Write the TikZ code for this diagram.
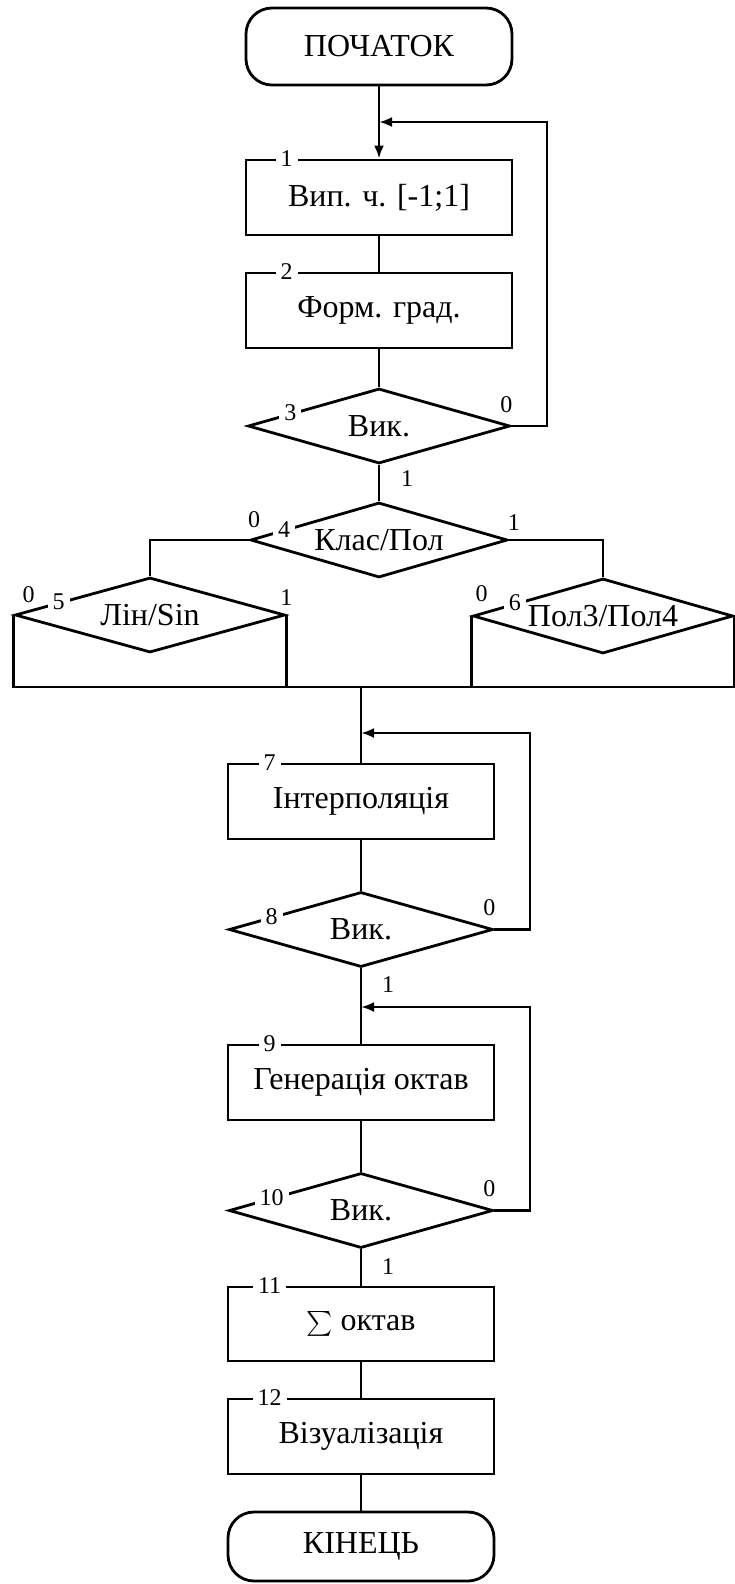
\documentclass[tikz,border=0pt]{standalone}
\usepackage{exscale}
\usepackage{fontspec}
\setmainfont{Liberation Serif}
\usetikzlibrary{shapes.geometric,arrows.meta,calc}
\tikzset{every picture/.style={line width=2.8pt}}
\tikzset{
  blk/.style={draw,rectangle,minimum width=266pt,minimum height=75pt,inner sep=0pt,font=\fontsize{32}{36}\selectfont},
  term/.style={blk,rounded corners=26pt},
  cond/.style={draw,diamond,aspect=3.5,inner sep=0pt,minimum width=#1,minimum height=75pt,font=\fontsize{32}{36}\selectfont},
  num/.style={fill=white,inner xsep=5pt,inner ysep=1pt,font=\fontsize{24}{26}\selectfont},
  br/.style={inner sep=1pt,font=\fontsize{24}{26}\selectfont},
  arr/.style={-{Latex[length=13pt,width=10pt]}}
}

\begin{document}
\begin{tikzpicture}[x=1pt,y=-1pt]
\useasboundingbox (0,0) rectangle (734,1584);

%Shapes: upper part
\node[term,minimum height=77pt] (start) at (379,46.5) {ПОЧАТОК};
\node[blk] (b1) at (379,197.5) {Вип. ч. [-1;1]};
\node[blk] (b2) at (379,310.5) {Форм. град.};
\node[cond=262pt] (d3) at (379,426) {Вик.};
\node[cond=257pt] (d4) at (379,540) {Клас/Пол};
\node[cond=270pt] (d5) at (150,615) {Лін/Sin};
\node[cond=260pt] (d6) at (603,616) {Пол3/Пол4};

%Shapes: lower part
\node[blk] (b7) at (361,801.5) {Інтерполяція};
\node[cond=264pt] (d8) at (361,929.5) {Вик.};
\node[blk] (b9) at (361,1082.5) {Генерація октав};
\node[cond=264pt] (d10) at (361,1210.5) {Вик.};
\node[blk,minimum height=74pt] (b11) at (361,1324) {$\sum$ октав};
\node[blk] (b12) at (361,1436.5) {Візуалізація};
\node[term,minimum height=69pt] (end) at (361,1546.5) {КІНЕЦЬ};

%Joints
\coordinate (m1) at (379,122);
\coordinate (loop1) at (547,122);
\coordinate (bus) at (361,687);
\coordinate (m7) at (361,733);
\coordinate (loop7) at (530,733);
\coordinate (m9) at (361,1007);
\coordinate (loop9) at (530,1007);

%Straight Lines
\draw[arr] (start.south) -- (b1.north);
\draw (b1.south) -- (b2.north);
\draw (b2.south) -- (d3.north);
\draw[arr] (d3.east) -| (loop1) -- (m1);
\draw (d3.south) -- (d4.north);
\draw (d4.west) -| (d5.north);
\draw (d4.east) -| (d6.north);
\draw (d5.west) |- (bus);
\draw (d5.east) -- (d5.east |- bus);
\draw (d6.west) -- (d6.west |- bus);
\draw (d6.east) |- (bus);
\draw (bus) -- (b7.north);
\draw (b7.south) -- (d8.north);
\draw[arr] (d8.east) -| (loop7) -- (m7);
\draw (d8.south) -- (b9.north);
\draw (b9.south) -- (d10.north);
\draw[arr] (d10.east) -| (loop9) -- (m9);
\draw (d10.south) -- (b11.north);
\draw (b11.south) -- (b12.north);
\draw (b12.south) -- (end.north);

% Text Node: block numbers
\node[num] (n1) at ([xshift=42pt]b1.north west) {1};
\node[num] (n2) at ([xshift=42pt]b2.north west) {2};
\node[num] (n3) at ($(d3.west)!0.33!(d3.north)$) {3};
\node[num] (n4) at ($(d4.west)!0.27!(d4.north)$) {4};
\node[num] (n5) at ($(d5.west)!0.33!(d5.north)$) {5};
\node[num] (n6) at ($(d6.west)!0.33!(d6.north)$) {6};
\node[num] (n7) at ([xshift=43pt]b7.north west) {7};
\node[num] (n8) at ($(d8.west)!0.33!(d8.north)$) {8};
\node[num] (n9) at ([xshift=43pt]b9.north west) {9};
\node[num] (n10) at ($(d10.west)!0.33!(d10.north)$) {10};
\node[num] (n11) at ([xshift=43pt]b11.north west) {11};
\node[num] (n12) at ([xshift=43pt]b12.north west) {12};

% Text Node: branch values
\node[br] (d3no) at ([xshift=-5pt,yshift=21pt]d3.east) {0};
\node[br] (d3yes) at ([xshift=28pt,yshift=-14pt]d3.south) {1};
\node[br] (d4no) at ([xshift=5pt,yshift=20pt]d4.west) {0};
\node[br] (d4yes) at ([xshift=5pt,yshift=17pt]d4.east) {1};
\node[br] (d5no) at ([xshift=15pt,yshift=20pt]d5.west) {0};
\node[br] (d5yes) at ([yshift=17pt]d5.east) {1};
\node[br] (d6no) at ([xshift=10pt,yshift=22pt]d6.west) {0};
\node[br] (d8no) at ([xshift=-5pt,yshift=22pt]d8.east) {0};
\node[br] (d8yes) at ([xshift=27pt,yshift=-16pt]d8.south) {1};
\node[br] (d10no) at ([xshift=-5pt,yshift=22pt]d10.east) {0};
\node[br] (d10yes) at ([xshift=27pt,yshift=-17pt]d10.south) {1};

\end{tikzpicture}
\end{document}
